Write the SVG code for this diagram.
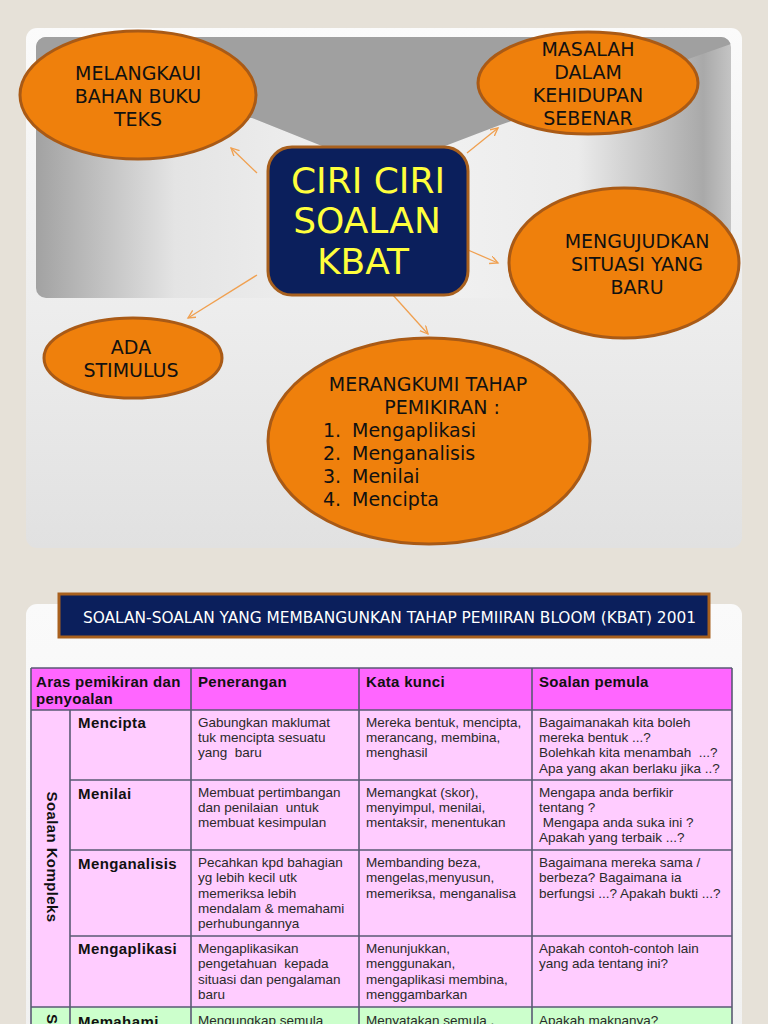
<svg xmlns="http://www.w3.org/2000/svg" width="768" height="1024" viewBox="0 0 768 1024">
<defs>
<style>
.bg{fill:#e6e1d8}
.ell{fill:#ef800c;stroke:#a95a16;stroke-width:3}
.et{font-family:"DejaVu Sans",Verdana,sans-serif;font-size:19px;fill:#111;text-anchor:middle}
.el{font-family:"DejaVu Sans",Verdana,sans-serif;font-size:19px;fill:#111}
.ct{font-family:"DejaVu Sans",Verdana,sans-serif;font-size:36px;fill:#ffff3c;text-anchor:middle}
.conn{stroke:#f0a050;stroke-width:1.3;fill:none}
.th{font-family:"Liberation Sans",Arial,sans-serif;font-size:15px;font-weight:bold;fill:#111;letter-spacing:0.3px}
.rl{font-family:"Liberation Sans",Arial,sans-serif;font-size:15px;font-weight:bold;fill:#111;letter-spacing:0.4px}
.td{font-family:"Liberation Sans",Arial,sans-serif;font-size:13.5px;fill:#2a2a2a;white-space:pre}
.grid{stroke:#5a5a74;stroke-width:1.6;fill:none}
</style>
<linearGradient id="card" x1="0" y1="0" x2="0" y2="1">
<stop offset="0" stop-color="#fbfbfb"/><stop offset="1" stop-color="#e1e1e1"/>
</linearGradient>
<linearGradient id="card2" x1="0" y1="0" x2="0" y2="1">
<stop offset="0" stop-color="#fafafa"/><stop offset="1" stop-color="#f1f1f1"/>
</linearGradient>
<linearGradient id="panel" x1="0" y1="0" x2="1" y2="0">
<stop offset="0" stop-color="#a2a2a2"/><stop offset="0.2" stop-color="#e4e4e4"/>
<stop offset="0.5" stop-color="#f3f3f3"/><stop offset="0.78" stop-color="#ebebeb"/>
<stop offset="0.96" stop-color="#a9a9a9"/><stop offset="1" stop-color="#c4c4c4"/>
</linearGradient>
<clipPath id="pclip"><rect x="36" y="37" width="695" height="261" rx="10"/></clipPath>
<marker id="ah" markerWidth="12" markerHeight="12" refX="8" refY="4" orient="auto" markerUnits="userSpaceOnUse">
<path d="M0,0 L8,4 L0,8" fill="none" stroke="#f0a050" stroke-width="1.3"/>
</marker>
</defs>

<rect class="bg" x="0" y="0" width="768" height="1024"/>

<g id="slide1">
<rect x="26" y="28" width="716" height="520" rx="11" fill="url(#card)"/>
<g clip-path="url(#pclip)">
<rect x="36" y="37" width="695" height="261" fill="url(#panel)"/>
<polygon points="36,37 731,37 731,44 500,125 445,146 322,146 252,118 36,118" fill="#a0a0a0"/>
</g>
</g>

<g id="connectors">
<line class="conn" x1="257" y1="173" x2="231" y2="148" marker-end="url(#ah)"/>
<line class="conn" x1="467" y1="153" x2="498" y2="128" marker-end="url(#ah)"/>
<line class="conn" x1="468" y1="250" x2="498" y2="263" marker-end="url(#ah)"/>
<line class="conn" x1="257" y1="275" x2="188" y2="318" marker-end="url(#ah)"/>
<line class="conn" x1="392" y1="294" x2="428" y2="334" marker-end="url(#ah)"/>
</g>

<g id="node-melangkaui">
<ellipse class="ell" cx="138" cy="95" rx="118" ry="64"/>
<text class="et" x="138" y="80">MELANGKAUI</text>
<text class="et" x="138" y="103">BAHAN BUKU</text>
<text class="et" x="138" y="126">TEKS</text>
</g>

<g id="node-masalah">
<ellipse class="ell" cx="588" cy="83" rx="110" ry="51"/>
<text class="et" x="588" y="56">MASALAH</text>
<text class="et" x="588" y="79">DALAM</text>
<text class="et" x="588" y="102">KEHIDUPAN</text>
<text class="et" x="588" y="125">SEBENAR</text>
</g>

<g id="node-center">
<rect x="268" y="147" width="200" height="148" rx="24" fill="#0b1f5c" stroke="#a8601e" stroke-width="3"/>
<text class="ct" x="368" y="193">CIRI CIRI</text>
<text class="ct" x="367" y="233">SOALAN</text>
<text class="ct" x="363" y="274">KBAT</text>
</g>

<g id="node-mengujudkan">
<ellipse class="ell" cx="624" cy="263" rx="115" ry="75"/>
<text class="et" x="637" y="248">MENGUJUDKAN</text>
<text class="et" x="637" y="271">SITUASI YANG</text>
<text class="et" x="637" y="294">BARU</text>
</g>

<g id="node-stimulus">
<ellipse class="ell" cx="133" cy="358" rx="89" ry="40"/>
<text class="et" x="131" y="354">ADA</text>
<text class="et" x="131" y="377">STIMULUS</text>
</g>

<g id="node-merangkumi">
<ellipse class="ell" cx="429" cy="441" rx="161" ry="103"/>
<text class="et" x="428" y="391">MERANGKUMI TAHAP</text>
<text class="et" x="442" y="414">PEMIKIRAN :</text>
<text class="el" x="323" y="437">1.</text><text class="el" x="352" y="437">Mengaplikasi</text>
<text class="el" x="323" y="460">2.</text><text class="el" x="352" y="460">Menganalisis</text>
<text class="el" x="323" y="483">3.</text><text class="el" x="352" y="483">Menilai</text>
<text class="el" x="323" y="506">4.</text><text class="el" x="352" y="506">Mencipta</text>
</g>

<g id="slide2">
<rect x="26" y="604" width="716" height="440" rx="11" fill="url(#card2)"/>
</g>

<g id="title-bar">
<rect x="59" y="594" width="650" height="43" fill="#0b1f5c" stroke="#a8601e" stroke-width="3"/>
<text x="83" y="623" font-family="'DejaVu Sans Condensed','Liberation Sans Narrow','DejaVu Sans',sans-serif" font-size="16" fill="#ffffff" textLength="613" lengthAdjust="spacingAndGlyphs">SOALAN-SOALAN YANG MEMBANGUNKAN TAHAP PEMIIRAN BLOOM (KBAT) 2001</text>
</g>

<g id="table">
<rect x="31" y="668" width="701" height="42" fill="#ff66ff"/>
<rect x="31" y="710" width="701" height="297" fill="#ffccff"/>
<rect x="31" y="1007" width="701" height="30" fill="#ccffcc"/>
<path class="grid" d="M31,668 H732 M31,1007 H732 M70,710 H732 M70,780 H732 M70,850 H732 M70,936 H732 M31,668 V1030 M70,710 V1030 M191,668 V1030 M359,668 V1030 M532,668 V1030 M732,668 V1030 M31,710 H70"/>

<text class="th" x="36" y="687">Aras pemikiran dan</text>
<text class="th" x="36" y="704">penyoalan</text>
<text class="th" x="198" y="687">Penerangan</text>
<text class="th" x="366" y="687">Kata kunci</text>
<text class="th" x="539" y="687">Soalan pemula</text>

<text class="rl" transform="translate(47,857) rotate(90)" text-anchor="middle">Soalan Kompleks</text>

<text class="rl" x="78" y="728">Mencipta</text>
<text class="td" x="198" y="727">Gabungkan maklumat</text>
<text class="td" x="198" y="742">tuk mencipta sesuatu</text>
<text class="td" x="198" y="757">yang  baru</text>
<text class="td" x="366" y="727">Mereka bentuk, mencipta,</text>
<text class="td" x="366" y="742">merancang, membina,</text>
<text class="td" x="366" y="757">menghasil</text>
<text class="td" x="539" y="727">Bagaimanakah kita boleh</text>
<text class="td" x="539" y="742">mereka bentuk ...?</text>
<text class="td" x="539" y="757">Bolehkah kita menambah  ...?</text>
<text class="td" x="539" y="773">Apa yang akan berlaku jika ..?</text>

<text class="rl" x="78" y="799">Menilai</text>
<text class="td" x="198" y="797">Membuat pertimbangan</text>
<text class="td" x="198" y="812">dan penilaian  untuk</text>
<text class="td" x="198" y="827">membuat kesimpulan</text>
<text class="td" x="366" y="797">Memangkat (skor),</text>
<text class="td" x="366" y="812">menyimpul, menilai,</text>
<text class="td" x="366" y="827">mentaksir, menentukan</text>
<text class="td" x="539" y="797">Mengapa anda berfikir</text>
<text class="td" x="539" y="812">tentang ?</text>
<text class="td" x="539" y="827"> Mengapa anda suka ini ?</text>
<text class="td" x="539" y="842">Apakah yang terbaik ...?</text>

<text class="rl" x="78" y="869">Menganalisis</text>
<text class="td" x="198" y="867">Pecahkan kpd bahagian</text>
<text class="td" x="198" y="882">yg lebih kecil utk</text>
<text class="td" x="198" y="898">memeriksa lebih</text>
<text class="td" x="198" y="913">mendalam &amp; memahami</text>
<text class="td" x="198" y="928">perhubungannya</text>
<text class="td" x="366" y="867">Membanding beza,</text>
<text class="td" x="366" y="882">mengelas,menyusun,</text>
<text class="td" x="366" y="898">memeriksa, menganalisa</text>
<text class="td" x="539" y="867">Bagaimana mereka sama /</text>
<text class="td" x="539" y="882">berbeza? Bagaimana ia</text>
<text class="td" x="539" y="898">berfungsi ...? Apakah bukti ...?</text>

<text class="rl" x="78" y="954">Mengaplikasi</text>
<text class="td" x="198" y="953">Mengaplikasikan</text>
<text class="td" x="198" y="968">pengetahuan  kepada</text>
<text class="td" x="198" y="984">situasi dan pengalaman</text>
<text class="td" x="198" y="999">baru</text>
<text class="td" x="366" y="953">Menunjukkan,</text>
<text class="td" x="366" y="968">menggunakan,</text>
<text class="td" x="366" y="984">mengaplikasi membina,</text>
<text class="td" x="366" y="999">menggambarkan</text>
<text class="td" x="539" y="953">Apakah contoh-contoh lain</text>
<text class="td" x="539" y="968">yang ada tentang ini?</text>

<text class="rl" transform="translate(47,1014) rotate(90)">S</text>
<text class="rl" x="78" y="1027">Memahami</text>
<text class="td" x="198" y="1025">Mengungkap semula</text>
<text class="td" x="366" y="1025">Menyatakan semula ,</text>
<text class="td" x="539" y="1025">Apakah maknanya?</text>
</g>
</svg>
